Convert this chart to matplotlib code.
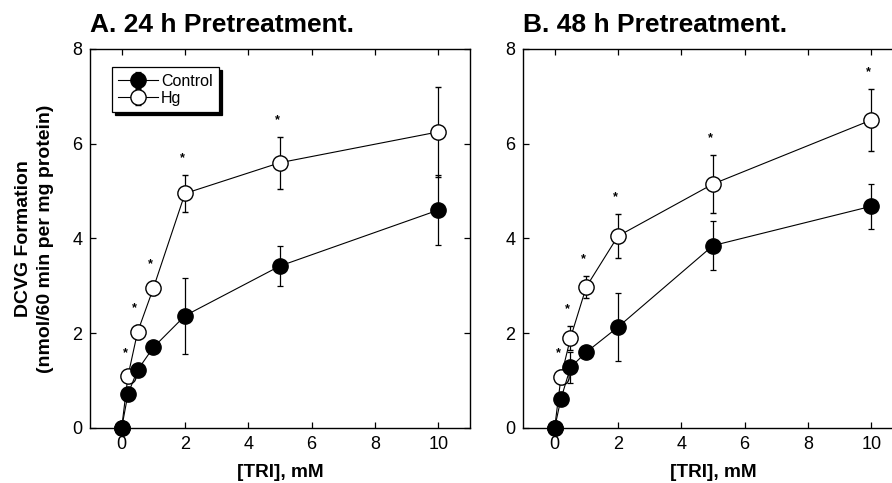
import matplotlib
matplotlib.use("Agg")
import matplotlib.pyplot as plt
import numpy as np

plt.rcParams['font.family'] = ['Liberation Sans', 'DejaVu Sans']

# === data ===
tri_mM = [0, 0.2, 0.5, 1, 2, 5, 10]

ctrl_24h = [0, 0.72, 1.22, 1.70, 2.37, 3.42, 4.60]
ctrl_24h_err = [0, 0.08, 0.10, 0.10, 0.80, 0.42, 0.73]
hg_24h = [0, 1.10, 2.02, 2.95, 4.95, 5.60, 6.25]
hg_24h_err = [0, 0.12, 0.15, 0.15, 0.39, 0.55, 0.95]
sig_24h = [False, True, True, True, True, True, False]

ctrl_48h = [0, 0.62, 1.28, 1.60, 2.13, 3.85, 4.68]
ctrl_48h_err = [0, 0.08, 0.33, 0.10, 0.71, 0.51, 0.47]
hg_48h = [0, 1.07, 1.90, 2.98, 4.05, 5.15, 6.50]
hg_48h_err = [0, 0.15, 0.25, 0.23, 0.47, 0.62, 0.65]
sig_48h = [False, True, True, True, True, True, True]

titles = ["A. 24 h Pretreatment.", "B. 48 h Pretreatment."]
xticks = [0, 2, 4, 6, 8, 10]
yticks = [0, 2, 4, 6, 8]

fig = plt.figure(figsize=(8.92, 4.83), dpi=100)
# axes B runs past the right edge, same as the scanned figure
ax_a = fig.add_axes([0.1009, 0.1139, 0.426, 0.7847])
ax_b = fig.add_axes([0.5863, 0.1139, 0.426, 0.7847])

panels = [
    (ax_a, titles[0], ctrl_24h, ctrl_24h_err, hg_24h, hg_24h_err, sig_24h),
    (ax_b, titles[1], ctrl_48h, ctrl_48h_err, hg_48h, hg_48h_err, sig_48h),
]

for ax, title, c, ce, h, he, sig in panels:
    # Hg (open) first so control circles sit on top
    ax.errorbar(tri_mM, h, yerr=he, color='black', lw=0.8, elinewidth=0.9,
                capsize=2.5, capthick=0.9, marker='o', ms=11, mfc='white',
                mec='black', mew=1.0, clip_on=False, zorder=3, label='Hg')
    ax.errorbar(tri_mM, c, yerr=ce, color='black', lw=0.8, elinewidth=0.9,
                capsize=2.5, capthick=0.9, marker='o', ms=11, mfc='black',
                mec='black', clip_on=False, zorder=4, label='Control')

    # significance stars above the Hg error bars
    for xi, yi, ei, s in zip(tri_mM, h, he, sig):
        if s:
            ax.annotate('*', xy=(xi, yi + ei), xytext=(-2, 12),
                        textcoords='offset points', ha='center', va='center',
                        fontsize=9, fontweight='bold')

    ax.set_xlim(-1, 11)
    ax.set_ylim(0, 8)
    ax.set_xticks(xticks)
    ax.set_yticks(yticks)
    ax.tick_params(direction='in', top=True, right=True, length=4, width=0.9,
                   labelsize=13, pad=5.5)
    for sp in ax.spines.values():
        sp.set_linewidth(1.0)
    ax.set_xlabel("[TRI], mM", fontsize=13.7, fontweight='bold', labelpad=8)
    ax.set_title(title, loc='left', fontsize=19, fontweight='bold', pad=12)

ax_a.set_ylabel("DCVG Formation\n(nmol/60 min per mg protein)", fontsize=14,
                fontweight='bold', labelpad=13, linespacing=1.4)

handles, labels = ax_a.get_legend_handles_labels()
leg = ax_a.legend(handles[::-1], labels[::-1], loc='upper left',
                  bbox_to_anchor=(0.058, 0.952), fontsize=11.5, frameon=True,
                  fancybox=False, edgecolor='black', framealpha=1,
                  shadow={'color': 'black', 'alpha': 1, 'ox': 2, 'oy': -2},
                  handlelength=2.5, handletextpad=0.15, borderpad=0.4,
                  labelspacing=0.15, borderaxespad=0)
leg.get_frame().set_linewidth(0.9)

fig.savefig("out.png", dpi=100)
